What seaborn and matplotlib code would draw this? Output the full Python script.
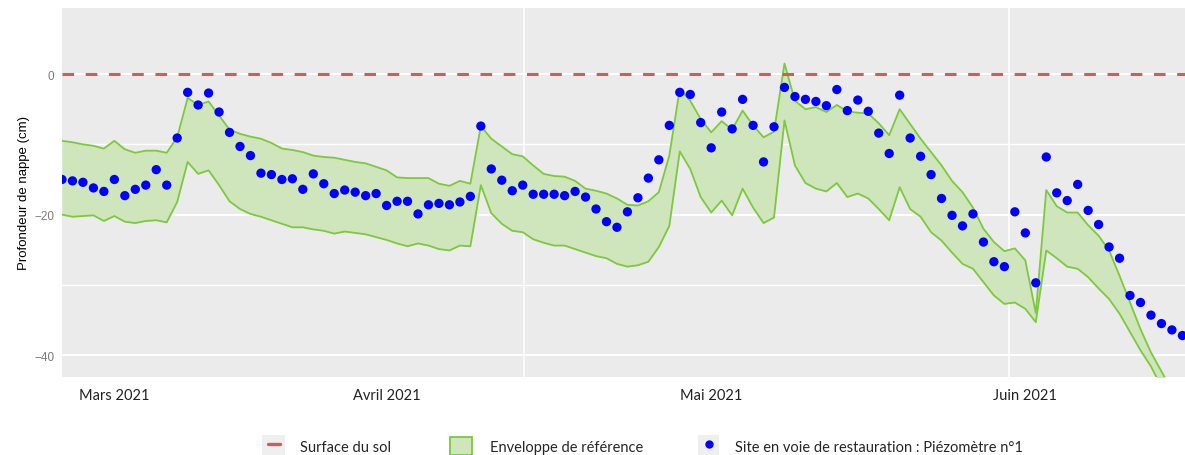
import numpy as np
import pandas as pd
import matplotlib
matplotlib.use("Agg")
import matplotlib.pyplot as plt
from matplotlib.lines import Line2D
from matplotlib.patches import Patch, Rectangle
import seaborn as sns

sns.set_theme(style="darkgrid")

# daily series (cm below ground), first day = 1 March 2021
debut = "2021-03-01"
piezo = [
    -15.0, -15.2, -15.4, -16.2, -16.7, -15.0, -17.3, -16.4, -15.8, -13.6,
    -15.8, -9.1, -2.6, -4.4, -2.7, -5.4, -8.3, -10.3, -11.6, -14.1,
    -14.3, -15.0, -14.9, -16.4, -14.2, -15.6, -17.0, -16.5, -16.8, -17.3,
    -17.0, -18.7, -18.1, -18.1, -19.9, -18.6, -18.4, -18.6, -18.2, -17.4,
    -7.4, -13.5, -15.1, -16.6, -15.8, -17.1, -17.1, -17.1, -17.3, -16.7,
    -17.5, -19.2, -21.0, -21.8, -19.6, -17.6, -14.8, -12.2, -7.3, -2.6,
    -2.9, -6.9, -10.5, -5.4, -7.8, -3.6, -7.3, -12.5, -7.5, -1.9,
    -3.2, -3.6, -3.9, -4.5, -2.2, -5.2, -3.7, -5.3, -8.4, -11.3,
    -3.0, -9.1, -11.7, -14.3, -17.7, -20.1, -21.6, -19.9, -23.9, -26.7,
    -27.4, -19.6, -22.6, -29.7, -11.8, -16.9, -18.0, -15.7, -19.4, -21.4,
    -24.6, -26.2, -31.5, -32.5, -34.3, -35.5, -36.4, -37.2,
]
env_haut = [
    -9.5, -9.7, -10.0, -10.2, -10.6, -9.5, -10.7, -11.2, -10.9, -10.9,
    -11.2, -9.0, -3.4, -4.4, -3.9, -5.9, -7.9, -8.5, -8.9, -9.2,
    -9.8, -10.6, -10.8, -11.1, -11.6, -11.8, -11.9, -12.2, -12.5, -12.7,
    -13.2, -13.7, -14.7, -14.8, -14.8, -14.8, -15.6, -15.9, -15.2, -15.6,
    -7.4, -9.2, -10.3, -11.4, -11.7, -13.0, -14.2, -14.5, -14.6, -15.2,
    -16.3, -16.6, -17.0, -17.7, -18.6, -18.7, -18.1, -16.8, -11.6, -2.1,
    -3.8, -6.4, -8.3, -6.7, -7.9, -5.2, -7.3, -9.0, -8.2, 1.5,
    -3.8, -5.0, -4.7, -5.4, -4.4, -5.3, -5.5, -5.6, -7.0, -8.7,
    -5.0, -7.1, -9.2, -11.1, -13.0, -15.2, -16.8, -19.0, -22.0, -23.9,
    -25.2, -24.8, -26.5, -34.0, -16.5, -18.8, -19.7, -19.7, -21.5, -23.0,
    -25.1, -28.7, -32.5, -36.3, -39.6, -42.3, -45.0, -47.5,
]
env_bas = [
    -20.0, -20.3, -20.2, -20.1, -20.9, -20.2, -21.0, -21.2, -20.9, -20.8,
    -21.1, -18.2, -12.5, -14.2, -13.7, -15.8, -18.1, -19.2, -19.9, -20.3,
    -20.8, -21.3, -21.8, -21.8, -22.1, -22.3, -22.7, -22.4, -22.6, -22.8,
    -23.2, -23.6, -24.1, -24.5, -24.1, -24.4, -24.9, -25.1, -24.4, -24.5,
    -15.8, -19.8, -21.3, -22.3, -22.5, -23.5, -24.0, -24.4, -24.4, -24.9,
    -25.4, -25.9, -26.2, -27.0, -27.4, -27.2, -26.7, -24.6, -21.6, -11.0,
    -13.5, -17.5, -19.7, -18.0, -20.1, -16.3, -19.0, -21.2, -20.4, -6.6,
    -13.0, -15.5, -16.3, -16.7, -15.5, -17.5, -17.0, -17.7, -19.2, -20.8,
    -16.1, -19.2, -20.3, -22.5, -23.7, -25.4, -27.0, -27.7, -29.6, -31.5,
    -32.7, -32.5, -33.4, -35.3, -25.1, -26.2, -27.4, -27.7, -28.9, -30.5,
    -32.0, -34.1, -36.7, -39.3, -41.6, -44.5, -47.5, -50.0,
]

mois_dates = ["2021-03-06", "2021-04-01", "2021-05-02", "2021-06-01"]
mois_labels = ["Mars 2021", "Avril 2021", "Mai 2021", "Juin 2021"]
grille_dates = ["2021-04-14 02:00", "2021-05-30 10:00"]

df = pd.DataFrame({
    "date": pd.date_range(debut, periods=len(piezo), freq="D"),
    "piezo": piezo,
    "haut": env_haut,
    "bas": env_bas,
})

rouge = "#c9605c"
vert = "#7cc93c"
vert_clair = "#cfe6bd"
bleu = "#0000ff"

W, H = 1185, 456
fig = plt.figure(figsize=(W / 100, H / 100), dpi=100)
ax = fig.add_axes([62 / W, 78 / H, 1123 / W, 369 / H])
ax.set_facecolor("#ebebeb")

ax.fill_between(df["date"], df["bas"], df["haut"], color=vert_clair, lw=0, zorder=2)
sns.lineplot(data=df, x="date", y="haut", color=vert, lw=1.3, ax=ax, zorder=3)
sns.lineplot(data=df, x="date", y="bas", color=vert, lw=1.3, ax=ax, zorder=3)
ax.axhline(0, color=rouge, lw=2.2, dashes=(3.8, 3.8), zorder=4)
sns.scatterplot(data=df, x="date", y="piezo", color=bleu, s=45, edgecolor="none",
                ax=ax, zorder=5)

ax.set_xlim(pd.Timestamp(debut), pd.Timestamp("2021-06-16 06:00"))
ax.set_ylim(-43.1, 9.4)

# axes / grid
ax.grid(False)
ax.set_yticks([0, -20, -40])
ax.set_yticks([-10, -30], minor=True)
ax.yaxis.grid(True, which="major", color="white", lw=1.5)
ax.yaxis.grid(True, which="minor", color="white", lw=1.0)
ax.set_xticks(pd.to_datetime(mois_dates))
ax.set_xticklabels(mois_labels)
ax.set_xticks(pd.to_datetime(grille_dates), minor=True)
ax.xaxis.grid(True, which="minor", color="white", lw=1.1)
for s in ax.spines.values():
    s.set_visible(False)

ax.tick_params(axis="x", which="major", direction="in", length=5, width=1,
               color="#333333", pad=8, labelsize=10.5, labelcolor="#222222")
ax.tick_params(axis="x", which="minor", length=0)
ax.tick_params(axis="y", which="major", direction="out", length=3.5, width=1,
               color="#8a8a8a", pad=2, labelsize=8.5, labelcolor="#7a7a7a")
ax.tick_params(axis="y", which="minor", length=0)
for lab in ax.get_xticklabels():
    lab.set_family(["Lato", "DejaVu Sans"])
for lab in ax.get_yticklabels():
    lab.set_family(["Liberation Sans", "DejaVu Sans"])

ax.set_xlabel("")
ax.set_ylabel("Profondeur de nappe (cm)", fontsize=9.5, color="black",
              family=["Liberation Sans", "DejaVu Sans"], labelpad=3)

# legend, one block per entry, with light grey key backgrounds
leg_y = 447
for x0, w in [(262, 23), (698, 21)]:
    fig.add_artist(Rectangle((x0 / W, (H - leg_y - 11) / H), w / W, 22 / H,
                             transform=fig.transFigure, color="#efefef", lw=0, zorder=0))

fs = 10.5
em = fs * 100 / 72
entrees = [
    (Line2D([0], [0], color=rouge, lw=2.4), "Surface du sol", 268, 12, 300),
    (Patch(facecolor=vert_clair, edgecolor=vert, lw=1.3), "Enveloppe de référence", 450, 22, 490),
    (Line2D([0], [0], marker="o", color=bleu, ls="", markersize=5),
     "Site en voie de restauration : Piézomètre n°1", 698, 21, 735),
]
for poignee, texte, xh, lh, xt in entrees:
    fig.legend([poignee], [texte], loc="center left",
               bbox_to_anchor=(xh / W, (H - leg_y) / H), frameon=False,
               borderpad=0, borderaxespad=0, handlelength=lh / em,
               handleheight=1.45, handletextpad=(xt - xh - lh) / em,
               prop={"family": ["Lato", "DejaVu Sans"], "size": fs})

fig.savefig("out.png", dpi=100)
